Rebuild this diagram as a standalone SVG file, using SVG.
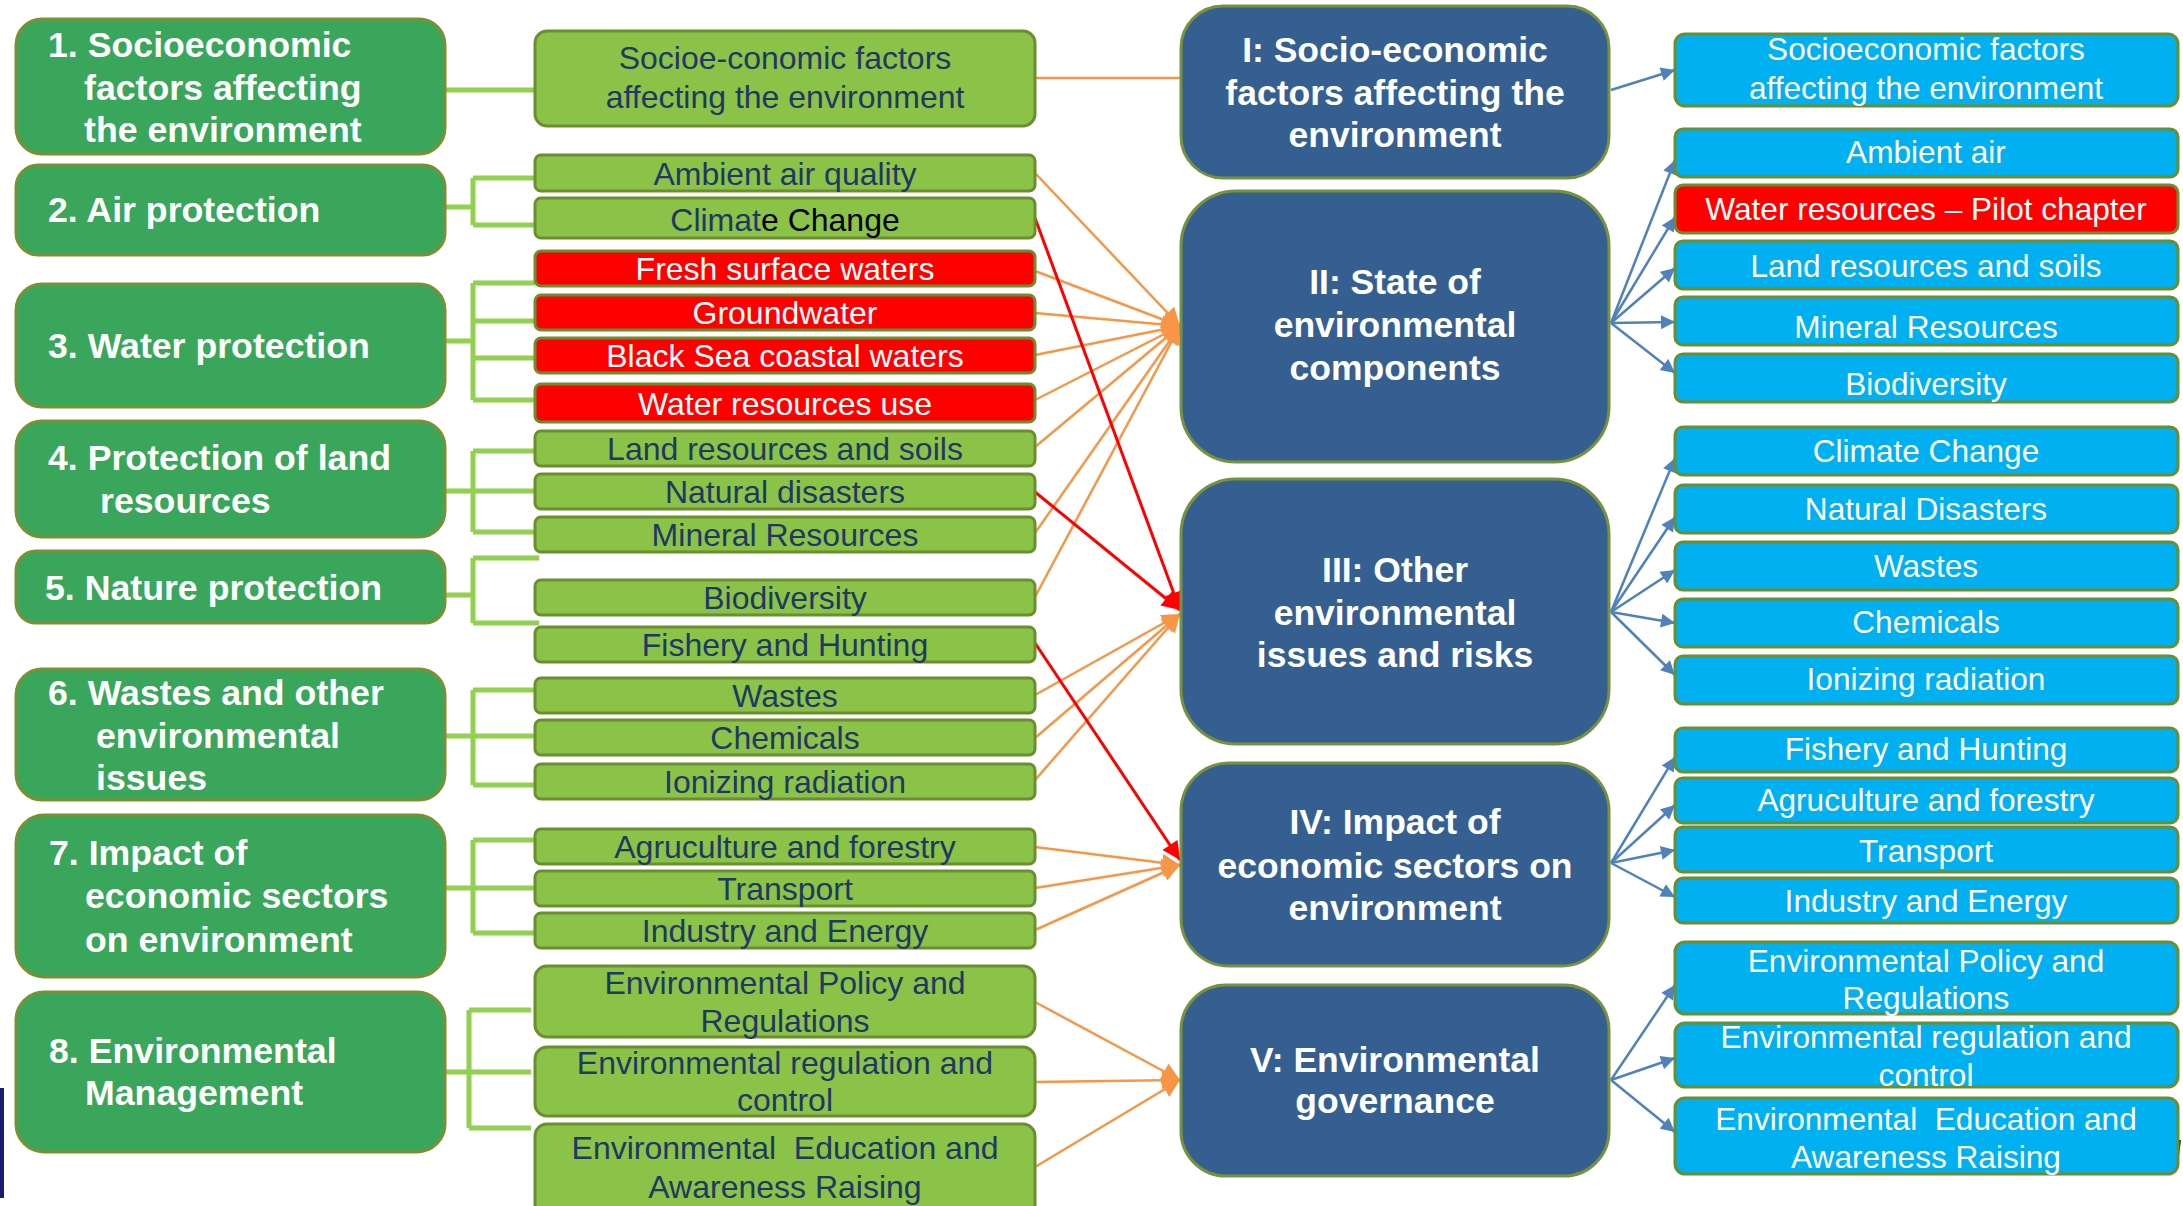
<svg xmlns="http://www.w3.org/2000/svg" width="2183" height="1206" viewBox="0 0 2183 1206">
  <defs>
    <marker id="arrBlue" viewBox="0 0 10 10" refX="10" refY="5" markerWidth="15" markerHeight="14" markerUnits="userSpaceOnUse" orient="auto">
      <path d="M0,0 L10,5 L0,10 z" fill="#4F81BD"/>
    </marker>
    <marker id="arrOrange" viewBox="0 0 10 10" refX="10" refY="5" markerWidth="18" markerHeight="18" markerUnits="userSpaceOnUse" orient="auto">
      <path d="M0,0 L10,5 L0,10 z" fill="#F79646"/>
    </marker>
    <marker id="arrRed" viewBox="0 0 10 10" refX="10" refY="5" markerWidth="20" markerHeight="18" markerUnits="userSpaceOnUse" orient="auto">
      <path d="M0,0 L10,5 L0,10 z" fill="#FF0000"/>
    </marker>
  </defs>
  <style>
    .grp { fill: #3AA65C; stroke: #7A9133; stroke-width: 3; }
    .sub { fill: #8BC248; stroke: #6B8E2E; stroke-width: 3; }
    .subred { fill: #FF0000; stroke: #6B8E2E; stroke-width: 3; }
    .chap { fill: #365F91; stroke: #76923C; stroke-width: 3; }
    .out { fill: #00B0F0; stroke: #6B8E2E; stroke-width: 3; }
    .outred { fill: #FF0000; stroke: #6B8E2E; stroke-width: 3; }
    .grpText { font-family: "Liberation Sans", Arial, sans-serif; font-weight: bold; font-size: 35.7px; fill: #FFFFFF; }
    .subText { font-family: "Liberation Sans", Arial, sans-serif; font-size: 32px; fill: #1F3864; text-anchor: middle; }
    .subTextW { font-family: "Liberation Sans", Arial, sans-serif; font-size: 32px; fill: #FFFFFF; text-anchor: middle; }
    .chapText { font-family: "Liberation Sans", Arial, sans-serif; font-weight: bold; font-size: 35.5px; fill: #FFFFFF; text-anchor: middle; }
    .outText { font-family: "Liberation Sans", Arial, sans-serif; font-size: 31.6px; fill: #FFFFFF; text-anchor: middle; }
    .bracket { stroke: #92D050; stroke-width: 5; fill: none; }
    .orange { stroke: #F79646; stroke-width: 2.5; fill: none; }
    .orangeA { stroke: #F79646; stroke-width: 2.5; fill: none; marker-end: url(#arrOrange); }
    .redA { stroke: #FF0000; stroke-width: 3; fill: none; marker-end: url(#arrRed); }
    .blueA { stroke: #4F81BD; stroke-width: 2.5; fill: none; marker-end: url(#arrBlue); }
  </style>

  <rect width="2183" height="1206" fill="#FFFFFF"/>

  <!-- edge marks -->
  <rect x="0" y="1088" width="4" height="110" fill="#1A1A6E"/>
  <line x1="2180" y1="1140" x2="2178" y2="1156" stroke="#222222" stroke-width="2"/>

  <!-- connectors -->
  <g id="connectors">
    <!-- brackets: topic groups to sub-topics -->
    <path class="bracket" d="M445,90 H535"/>
    <path class="bracket" d="M445,207 H473 M473,178 V225 M473,178 H535 M473,225 H535"/>
    <path class="bracket" d="M445,341 H473 M473,283 V400 M473,283 H535 M473,321 H535 M473,358 H535 M473,400 H535"/>
    <path class="bracket" d="M445,491 H473 M473,451 V532 M473,451 H535 M473,491 H535 M473,532 H535"/>
    <path class="bracket" d="M445,595 H473 M473,558 V623 M473,558 H539 M473,623 H539"/>
    <path class="bracket" d="M445,736 H473 M473,690 V785 M473,690 H535 M473,736 H535 M473,785 H535"/>
    <path class="bracket" d="M445,888 H473 M473,840 V933 M473,840 H535 M473,888 H535 M473,933 H535"/>
    <path class="bracket" d="M445,1072 H469 M469,1010 V1128 M469,1010 H531 M469,1072 H531 M469,1128 H531"/>

    <!-- sub-topics to chapters -->
    <path class="orange" d="M1035,78 H1183"/>

    <path class="orangeA" d="M1035,173 L1180,326"/>
    <path class="orangeA" d="M1035,271 L1180,326"/>
    <path class="orangeA" d="M1035,313 L1180,326"/>
    <path class="orangeA" d="M1035,355 L1180,326"/>
    <path class="orangeA" d="M1035,400 L1180,326"/>
    <path class="orangeA" d="M1035,447 L1180,326"/>
    <path class="orangeA" d="M1035,533 L1180,326"/>
    <path class="orangeA" d="M1035,597 L1180,326"/>

    <path class="orangeA" d="M1035,695 L1180,614"/>
    <path class="orangeA" d="M1035,738 L1180,614"/>
    <path class="orangeA" d="M1035,780 L1180,614"/>
    <path class="redA" d="M1035,218 L1180,610"/>
    <path class="redA" d="M1035,492 L1180,610"/>

    <path class="orangeA" d="M1035,847 L1180,865"/>
    <path class="orangeA" d="M1035,888 L1180,865"/>
    <path class="orangeA" d="M1035,930 L1180,865"/>
    <path class="redA" d="M1035,643 L1180,860"/>

    <path class="orangeA" d="M1035,1002 L1180,1080"/>
    <path class="orangeA" d="M1035,1082 L1180,1080"/>
    <path class="orangeA" d="M1035,1167 L1180,1080"/>

    <!-- chapters to report sections -->
    <path class="blueA" d="M1611,90 L1675,70"/>

    <path class="blueA" d="M1611,323 L1675,160"/>
    <path class="blueA" d="M1611,323 L1675,217"/>
    <path class="blueA" d="M1611,323 L1675,268"/>
    <path class="blueA" d="M1611,323 L1675,322"/>
    <path class="blueA" d="M1611,323 L1675,373"/>

    <path class="blueA" d="M1611,612 L1675,458"/>
    <path class="blueA" d="M1611,612 L1675,517"/>
    <path class="blueA" d="M1611,612 L1675,570"/>
    <path class="blueA" d="M1611,612 L1675,623"/>
    <path class="blueA" d="M1611,612 L1675,675"/>

    <path class="blueA" d="M1611,863 L1675,757"/>
    <path class="blueA" d="M1611,863 L1675,805"/>
    <path class="blueA" d="M1611,863 L1675,850"/>
    <path class="blueA" d="M1611,863 L1675,897"/>

    <path class="blueA" d="M1611,1080 L1675,985"/>
    <path class="blueA" d="M1611,1080 L1675,1058"/>
    <path class="blueA" d="M1611,1080 L1675,1132"/>
  </g>

  <!-- topic groups (left column) -->
  <g id="g1">
    <rect class="grp" x="16" y="19" width="429" height="135" rx="26"/>
    <text class="grpText"><tspan x="48" y="57">1. Socioeconomic</tspan><tspan x="84" y="100">factors affecting</tspan><tspan x="84" y="142">the environment</tspan></text>
  </g>
  <g id="g2">
    <rect class="grp" x="16" y="165" width="429" height="90" rx="22"/>
    <text class="grpText" x="48" y="222">2. Air protection</text>
  </g>
  <g id="g3">
    <rect class="grp" x="16" y="284" width="429" height="123" rx="26"/>
    <text class="grpText" x="48" y="358">3. Water protection</text>
  </g>
  <g id="g4">
    <rect class="grp" x="16" y="421" width="429" height="116" rx="26"/>
    <text class="grpText"><tspan x="48" y="470">4. Protection of land</tspan><tspan x="100" y="513">resources</tspan></text>
  </g>
  <g id="g5">
    <rect class="grp" x="16" y="551" width="429" height="72" rx="20"/>
    <text class="grpText" x="45" y="600">5. Nature protection</text>
  </g>
  <g id="g6">
    <rect class="grp" x="16" y="669" width="429" height="131" rx="26"/>
    <text class="grpText"><tspan x="48" y="705">6. Wastes and other</tspan><tspan x="96" y="748">environmental</tspan><tspan x="96" y="790">issues</tspan></text>
  </g>
  <g id="g7">
    <rect class="grp" x="16" y="815" width="429" height="162" rx="28"/>
    <text class="grpText"><tspan x="49" y="865">7. Impact of</tspan><tspan x="85" y="908">economic sectors</tspan><tspan x="85" y="952">on environment</tspan></text>
  </g>
  <g id="g8">
    <rect class="grp" x="16" y="992" width="429" height="160" rx="28"/>
    <text class="grpText"><tspan x="49" y="1063">8. Environmental</tspan><tspan x="85" y="1105">Management</tspan></text>
  </g>

  <!-- sub-topics (middle column) -->
  <g id="s-socio">
    <rect class="sub" x="535" y="31" width="500" height="95" rx="12"/>
    <text class="subText"><tspan x="785" y="69">Socioe-conomic factors</tspan><tspan x="785" y="108">affecting the environment</tspan></text>
  </g>
  <g id="s-air">
    <rect class="sub" x="535" y="155" width="500" height="36" rx="6"/>
    <text class="subText" x="785" y="185">Ambient air quality</text>
  </g>
  <g id="s-climate">
    <rect class="sub" x="535" y="198" width="500" height="40" rx="6"/>
    <text class="subText" x="785" y="231">Climat<tspan fill="#000000">e Change</tspan></text>
  </g>
  <g id="s-fresh">
    <rect class="subred" x="535" y="251" width="500" height="35" rx="6"/>
    <text class="subTextW" x="785" y="280">Fresh surface waters</text>
  </g>
  <g id="s-ground">
    <rect class="subred" x="535" y="295" width="500" height="35" rx="6"/>
    <text class="subTextW" x="785" y="324">Groundwater</text>
  </g>
  <g id="s-blacksea">
    <rect class="subred" x="535" y="338" width="500" height="35" rx="6"/>
    <text class="subTextW" x="785" y="367">Black Sea coastal waters</text>
  </g>
  <g id="s-wateruse">
    <rect class="subred" x="535" y="384" width="500" height="38" rx="6"/>
    <text class="subTextW" x="785" y="415">Water resources use</text>
  </g>
  <g id="s-land">
    <rect class="sub" x="535" y="431" width="500" height="35" rx="6"/>
    <text class="subText" x="785" y="460">Land resources and soils</text>
  </g>
  <g id="s-disasters">
    <rect class="sub" x="535" y="474" width="500" height="35" rx="6"/>
    <text class="subText" x="785" y="503">Natural disasters</text>
  </g>
  <g id="s-mineral">
    <rect class="sub" x="535" y="517" width="500" height="35" rx="6"/>
    <text class="subText" x="785" y="546">Mineral Resources</text>
  </g>
  <g id="s-bio">
    <rect class="sub" x="535" y="580" width="500" height="35" rx="6"/>
    <text class="subText" x="785" y="609">Biodiversity</text>
  </g>
  <g id="s-fishery">
    <rect class="sub" x="535" y="627" width="500" height="35" rx="6"/>
    <text class="subText" x="785" y="656">Fishery and Hunting</text>
  </g>
  <g id="s-wastes">
    <rect class="sub" x="535" y="678" width="500" height="35" rx="6"/>
    <text class="subText" x="785" y="707">Wastes</text>
  </g>
  <g id="s-chem">
    <rect class="sub" x="535" y="720" width="500" height="35" rx="6"/>
    <text class="subText" x="785" y="749">Chemicals</text>
  </g>
  <g id="s-ion">
    <rect class="sub" x="535" y="764" width="500" height="35" rx="6"/>
    <text class="subText" x="785" y="793">Ionizing radiation</text>
  </g>
  <g id="s-agri">
    <rect class="sub" x="535" y="829" width="500" height="35" rx="6"/>
    <text class="subText" x="785" y="858">Agruculture and forestry</text>
  </g>
  <g id="s-transport">
    <rect class="sub" x="535" y="871" width="500" height="35" rx="6"/>
    <text class="subText" x="785" y="900">Transport</text>
  </g>
  <g id="s-industry">
    <rect class="sub" x="535" y="913" width="500" height="35" rx="6"/>
    <text class="subText" x="785" y="942">Industry and Energy</text>
  </g>
  <g id="s-policy">
    <rect class="sub" x="535" y="966" width="500" height="71" rx="12"/>
    <text class="subText"><tspan x="785" y="994">Environmental Policy and</tspan><tspan x="785" y="1032">Regulations</tspan></text>
  </g>
  <g id="s-regulation">
    <rect class="sub" x="535" y="1047" width="500" height="69" rx="12"/>
    <text class="subText"><tspan x="785" y="1074">Environmental regulation and</tspan><tspan x="785" y="1111">control</tspan></text>
  </g>
  <g id="s-education">
    <rect class="sub" x="535" y="1124" width="500" height="95" rx="12"/>
    <text class="subText"><tspan x="785" y="1159">Environmental&#160; Education and</tspan><tspan x="785" y="1198">Awareness Raising</tspan></text>
  </g>

  <!-- report chapters -->
  <g id="c1">
    <rect class="chap" x="1181" y="6" width="428" height="172" rx="42"/>
    <text class="chapText"><tspan x="1395" y="62">I: Socio-economic</tspan><tspan x="1395" y="105">factors affecting the</tspan><tspan x="1395" y="147">environment</tspan></text>
  </g>
  <g id="c2">
    <rect class="chap" x="1181" y="191" width="428" height="271" rx="55"/>
    <text class="chapText"><tspan x="1395" y="294">II: State of</tspan><tspan x="1395" y="337">environmental</tspan><tspan x="1395" y="380">components</tspan></text>
  </g>
  <g id="c3">
    <rect class="chap" x="1181" y="479" width="428" height="265" rx="55"/>
    <text class="chapText"><tspan x="1395" y="582">III: Other</tspan><tspan x="1395" y="625">environmental</tspan><tspan x="1395" y="667">issues and risks</tspan></text>
  </g>
  <g id="c4">
    <rect class="chap" x="1181" y="763" width="428" height="203" rx="48"/>
    <text class="chapText"><tspan x="1395" y="834">IV: Impact of</tspan><tspan x="1395" y="878">economic sectors on</tspan><tspan x="1395" y="920">environment</tspan></text>
  </g>
  <g id="c5">
    <rect class="chap" x="1181" y="985" width="428" height="191" rx="45"/>
    <text class="chapText"><tspan x="1395" y="1072">V: Environmental</tspan><tspan x="1395" y="1113">governance</tspan></text>
  </g>

  <!-- report sections (right column) -->
  <g id="r-socio">
    <rect class="out" x="1675" y="34" width="503" height="72" rx="10"/>
    <text class="outText"><tspan x="1926" y="60">Socioeconomic factors</tspan><tspan x="1926" y="99">affecting the environment</tspan></text>
  </g>
  <g id="r-air">
    <rect class="out" x="1675" y="129" width="503" height="48" rx="8"/>
    <text class="outText" x="1926" y="163">Ambient air</text>
  </g>
  <g id="r-water">
    <rect class="outred" x="1675" y="185" width="503" height="48" rx="8"/>
    <text class="outText" x="1926" y="220">Water resources – Pilot chapter</text>
  </g>
  <g id="r-land">
    <rect class="out" x="1675" y="241" width="503" height="48" rx="8"/>
    <text class="outText" x="1926" y="277">Land resources and soils</text>
  </g>
  <g id="r-mineral">
    <rect class="out" x="1675" y="297" width="503" height="48" rx="8"/>
    <text class="outText" x="1926" y="338">Mineral Resources</text>
  </g>
  <g id="r-bio">
    <rect class="out" x="1675" y="354" width="503" height="48" rx="8"/>
    <text class="outText" x="1926" y="395">Biodiversity</text>
  </g>
  <g id="r-climate">
    <rect class="out" x="1675" y="427" width="503" height="48" rx="8"/>
    <text class="outText" x="1926" y="462">Climate Change</text>
  </g>
  <g id="r-disasters">
    <rect class="out" x="1675" y="485" width="503" height="48" rx="8"/>
    <text class="outText" x="1926" y="520">Natural Disasters</text>
  </g>
  <g id="r-wastes">
    <rect class="out" x="1675" y="542" width="503" height="48" rx="8"/>
    <text class="outText" x="1926" y="577">Wastes</text>
  </g>
  <g id="r-chem">
    <rect class="out" x="1675" y="599" width="503" height="48" rx="8"/>
    <text class="outText" x="1926" y="633">Chemicals</text>
  </g>
  <g id="r-ion">
    <rect class="out" x="1675" y="656" width="503" height="48" rx="8"/>
    <text class="outText" x="1926" y="690">Ionizing radiation</text>
  </g>
  <g id="r-fishery">
    <rect class="out" x="1675" y="728" width="503" height="44" rx="8"/>
    <text class="outText" x="1926" y="760">Fishery and Hunting</text>
  </g>
  <g id="r-agri">
    <rect class="out" x="1675" y="778" width="503" height="45" rx="8"/>
    <text class="outText" x="1926" y="811">Agruculture and forestry</text>
  </g>
  <g id="r-transport">
    <rect class="out" x="1675" y="827" width="503" height="45" rx="8"/>
    <text class="outText" x="1926" y="862">Transport</text>
  </g>
  <g id="r-industry">
    <rect class="out" x="1675" y="878" width="503" height="45" rx="8"/>
    <text class="outText" x="1926" y="912">Industry and Energy</text>
  </g>
  <g id="r-policy">
    <rect class="out" x="1675" y="942" width="503" height="72" rx="10"/>
    <text class="outText"><tspan x="1926" y="972">Environmental Policy and</tspan><tspan x="1926" y="1009">Regulations</tspan></text>
  </g>
  <g id="r-regulation">
    <rect class="out" x="1675" y="1023" width="503" height="64" rx="10"/>
    <text class="outText"><tspan x="1926" y="1048">Environmental regulation and</tspan><tspan x="1926" y="1086">control</tspan></text>
  </g>
  <g id="r-education">
    <rect class="out" x="1675" y="1098" width="503" height="76" rx="10"/>
    <text class="outText"><tspan x="1926" y="1130">Environmental&#160; Education and</tspan><tspan x="1926" y="1168">Awareness Raising</tspan></text>
  </g>
</svg>
